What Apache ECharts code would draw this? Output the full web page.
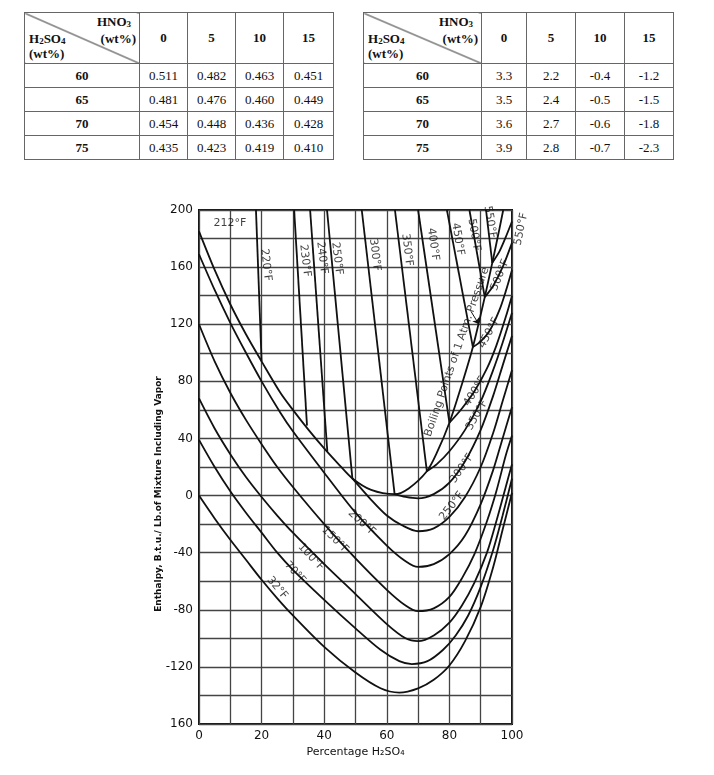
<!DOCTYPE html>
<html><head><meta charset="utf-8">
<script src="https://cdn.jsdelivr.net/npm/echarts@6/dist/echarts.min.js"></script>
<style>
body{margin:0;background:#fff;}
#chart{position:absolute;left:0;top:0;width:714px;height:775px;}
table.t{position:absolute;top:12px;border-collapse:collapse;font-family:"Liberation Serif","Times New Roman",serif;font-size:13px;color:#111;table-layout:fixed;z-index:2;background:#fff;}
table.t td{border:1px solid #666;text-align:center;padding:0;height:23px;}
table.t tr.hd td{height:50px;}
table.t td.b{font-weight:bold;}
table.t td.diag{position:relative;font-weight:bold;background:linear-gradient(to top right,transparent calc(50% - 0.9px),#222 50%,transparent calc(50% + 0.9px));}
table.t td.diag span{position:absolute;line-height:13px;}
table.t sub{font-size:9px;vertical-align:-1px;line-height:0;}
.sa{right:8px;top:2px;}.sb{right:3px;top:19px;}.sc{left:4px;top:19px;}.sd{left:4px;top:34px;}
</style>
</head><body>
<div id="chart"></div>
<div id="tables"></div>
<script>
// ---------- table data ----------
const hno3Cols = ['0','5','10','15'];
const h2so4Rows = ['60','65','70','75'];
const tableA = [[0.511,0.482,0.463,0.451],[0.481,0.476,0.460,0.449],[0.454,0.448,0.436,0.428],[0.435,0.423,0.419,0.410]];
const tableB = [[3.3,2.2,-0.4,-1.2],[3.5,2.4,-0.5,-1.5],[3.6,2.7,-0.6,-1.8],[3.9,2.8,-0.7,-2.3]];

// ---------- chart data (x = % H2SO4, y = enthalpy) ----------
const xTickLabels = [0,20,40,60,80,100];
const yTickLabels = [200,160,120,80,40,0,-40,-80,-120,-160];
// liquid isotherms
const iso32  = [[0,0],[5,-16],[10,-31],[15,-45],[20,-59],[25,-72],[30,-84],[40,-106],[50,-124],[58,-135],[64,-138],[70,-135],[75,-129],[80,-119],[85,-102],[90,-78],[94,-50],[97,-24],[100,2]];
const iso70  = [[0,39],[5,20],[10,3],[15,-12],[20,-26],[25,-40],[30,-52],[40,-73],[50,-93],[58,-108],[64,-116],[68,-118],[73,-116],[78,-108],[82,-98],[86,-84],[90,-64],[94,-38],[97,-14],[100,12]];
const iso100 = [[0,68],[5,47],[10,29],[15,13],[20,-1],[25,-14],[30,-26],[40,-48],[50,-69],[60,-90],[66,-100],[70,-102],[75,-98],[80,-89],[84,-77],[88,-61],[92,-40],[95,-18],[98,6],[100,22]];
const iso150 = [[0,120],[5,94],[10,72],[15,53],[20,36],[25,20],[30,6],[40,-20],[50,-44],[60,-66],[66,-77],[70,-81],[75,-79],[80,-71],[84,-58],[88,-41],[92,-18],[95,3],[98,28],[100,42]];
const iso200 = [[0,169],[5,144],[10,121],[15,100],[20,80],[26,58],[30,45],[40,16],[50,-12],[60,-35],[66,-46],[70,-50],[75,-48],[80,-41],[85,-28],[90,-6],[94,18],[97,40],[100,62]];
const iso250 = [[49,12],[55,-3],[60,-14],[65,-21],[70,-25],[75,-23],[80,-15],[85,-1],[90,20],[94,44],[97,66],[100,88]];
const iso300 = [[62.5,1],[66,-1],[70,-2],[75,1],[80,9],[85,24],[90,46],[94,70],[97,91],[100,112]];
const iso350 = [[72.8,17],[76,22],[80,31],[85,46],[90,66],[94,88],[97,107],[100,128]];
const iso400 = [[80,51],[84,61],[88,73],[92,89],[95,105],[98,125],[100,140]];
const iso450 = [[87.5,104],[90,108],[93,116],[96,130],[98,143],[100,158]];
const iso500 = [[91.3,139],[94,147],[97,160],[100,177]];
const iso550 = [[93.7,163],[96,171],[98,181],[100,192]];
// boiling point curve at 1 atm
const boilCurve = [[0,185],[5,158],[10,134],[15,113],[20,94],[26,72],[30,60],[35,46],[40,33],[45,21],[49,12],[55,4],[62.5,1],[67,5],[72.8,17],[76,30],[80,51],[84,78],[87.5,104],[91.3,139],[93.7,163],[96,187],[97.2,200]];
// two-phase (liquid + vapor) isotherms
const tp220 = [[18.2,200],[20,94]];
const tp230 = [[30.4,200],[34.5,49]];
const tp240 = [[35.5,200],[41,31]];
const tp250 = [[40.9,200],[49,12]];
const tp300 = [[52,200],[62.5,1]];
const tp350 = [[62.6,200],[72.8,17]];
const tp400 = [[70,200],[80,51]];
const tp450 = [[79.2,200],[87.5,104]];
const tp500 = [[86.4,200],[91.3,139]];
const tp550 = [[91.7,200],[93.7,163]];
const arrowPts = [[86.9,129],[89.4,120]];
// curve labels: text, x, y, rotation
const curveLabels = [
 ['212°F',9.9,191,0],
 ['220°F',21.4,161.5,-83],['230°F',33.9,164.5,-83],['240°F',39.3,166.5,-83],['250°F',44.1,166,-83],
 ['300°F',56.2,168.5,-83],['350°F',66.5,172,-83],['400°F',74.8,176,-82],['450°F',82.7,179.5,-80],
 ['500°F',87.9,182.5,-80],['550°F',93,191.5,-80],['550°F',102.9,186.7,78],
 ['32°F',25,-64.7,-50],['70°F',30.7,-54,-48],['100°F',35.8,-43,-47],['150°F',43.5,-31,-45],['200°F',52,-19,-42],
 ['250°F',80.8,-7.3,52],['300°F',84,19,55],['350°F',88.8,56.4,60],['400°F',88.2,73,58],
 ['450°F',92.7,113.9,62],['500°F',96.2,154.5,68],
 ['Boiling Points of 1 Atm. Pressure',82.4,100.6,71]
];

// ---------- tables ----------
function buildTable(vals, digits, left, widths){
  let h = '<table class="t" style="left:'+left+'px"><colgroup>' + widths.map(w=>'<col style="width:'+w+'px">').join('') + '</colgroup>';
  h += '<tr class="hd"><td class="diag"><span class="sa">HNO<sub>3</sub></span><span class="sb">(wt%)</span><span class="sc">H<sub>2</sub>SO<sub>4</sub></span><span class="sd">(wt%)</span></td>'
     + hno3Cols.map(c=>'<td class="b">'+c+'</td>').join('') + '</tr>';
  vals.forEach((row,i)=>{
    h += '<tr><td class="b">'+h2so4Rows[i]+'</td>' + row.map(v=>'<td>'+v.toFixed(digits)+'</td>').join('') + '</tr>';
  });
  return h + '</table>';
}
document.getElementById('tables').innerHTML =
  buildTable(tableA,3,24,[115,48,48,48,50]) + buildTable(tableB,1,363,[118,45,49,49,49]);

// ---------- chart ----------
const FONT = 'DejaVu Sans';
const INK = '#111';
function curve(data, w){
  return {type:'line', data:data, showSymbol:false, symbol:'none', smooth:0.3,
          silent:true, z:3, lineStyle:{color:INK, width:w||1.8}};
}
const allCurves = [iso32,iso70,iso100,iso150,iso200,iso250,iso300,iso350,iso400,iso450,iso500,iso550,boilCurve,
  tp220,tp230,tp240,tp250,tp300,tp350,tp400,tp450,tp500,tp550];
const series = allCurves.map(d=>curve(d));
series.push({
  type:'line', data:[], symbol:'none', silent:true,
  markLine:{silent:true, symbol:['none','arrow'], symbolSize:6, label:{show:false},
    lineStyle:{color:INK,width:1,type:'solid'},
    data:[[{coord:arrowPts[0]},{coord:arrowPts[1]}]]}
});
series.push({
  type:'scatter', symbolSize:0, clip:false, silent:true, z:5,
  label:{show:true, position:'inside', color:INK, fontFamily:FONT, fontSize:11},
  data: curveLabels.map(l=>({value:[l[1],l[2]], label:{formatter:l[0], rotate:l[3]}}))
});

const chart = echarts.init(document.getElementById('chart'), null, {renderer:'canvas'});
chart.setOption({
  animation:false,
  backgroundColor:'#fff',
  grid:{left:199, right:202, top:210, bottom:51, show:true, borderColor:INK, borderWidth:2},
  xAxis:{type:'value', min:0, max:100, interval:10,
    axisLine:{show:false}, axisTick:{show:false},
    splitLine:{lineStyle:{color:'#444', width:1.3}},
    axisLabel:{color:INK, fontFamily:FONT, fontSize:12, margin:6,
      formatter:v=> xTickLabels.indexOf(v)>=0 ? String(v) : ''},
    name:'Percentage H₂SO₄', nameLocation:'middle', nameGap:21,
    nameTextStyle:{color:INK, fontFamily:FONT, fontSize:11}},
  yAxis:{type:'value', min:-160, max:200, interval:20,
    axisLine:{show:false}, axisTick:{show:false},
    splitLine:{lineStyle:{color:'#444', width:1.3}},
    axisLabel:{color:INK, fontFamily:FONT, fontSize:12, margin:6,
      formatter:v=> yTickLabels.indexOf(v)>=0 ? String(Math.abs(v)===160 ? 160 : v) : ''}},
  graphic:[{type:'text', x:159, y:494, rotation:Math.PI/2, silent:true,
    style:{text:'Enthalpy, B.t.u./ Lb.of Mixture Including Vapor', textAlign:'center', textVerticalAlign:'middle',
      font:'bold 9px "DejaVu Sans"', fill:INK}}],
  series:series
});
</script>
</body></html>
